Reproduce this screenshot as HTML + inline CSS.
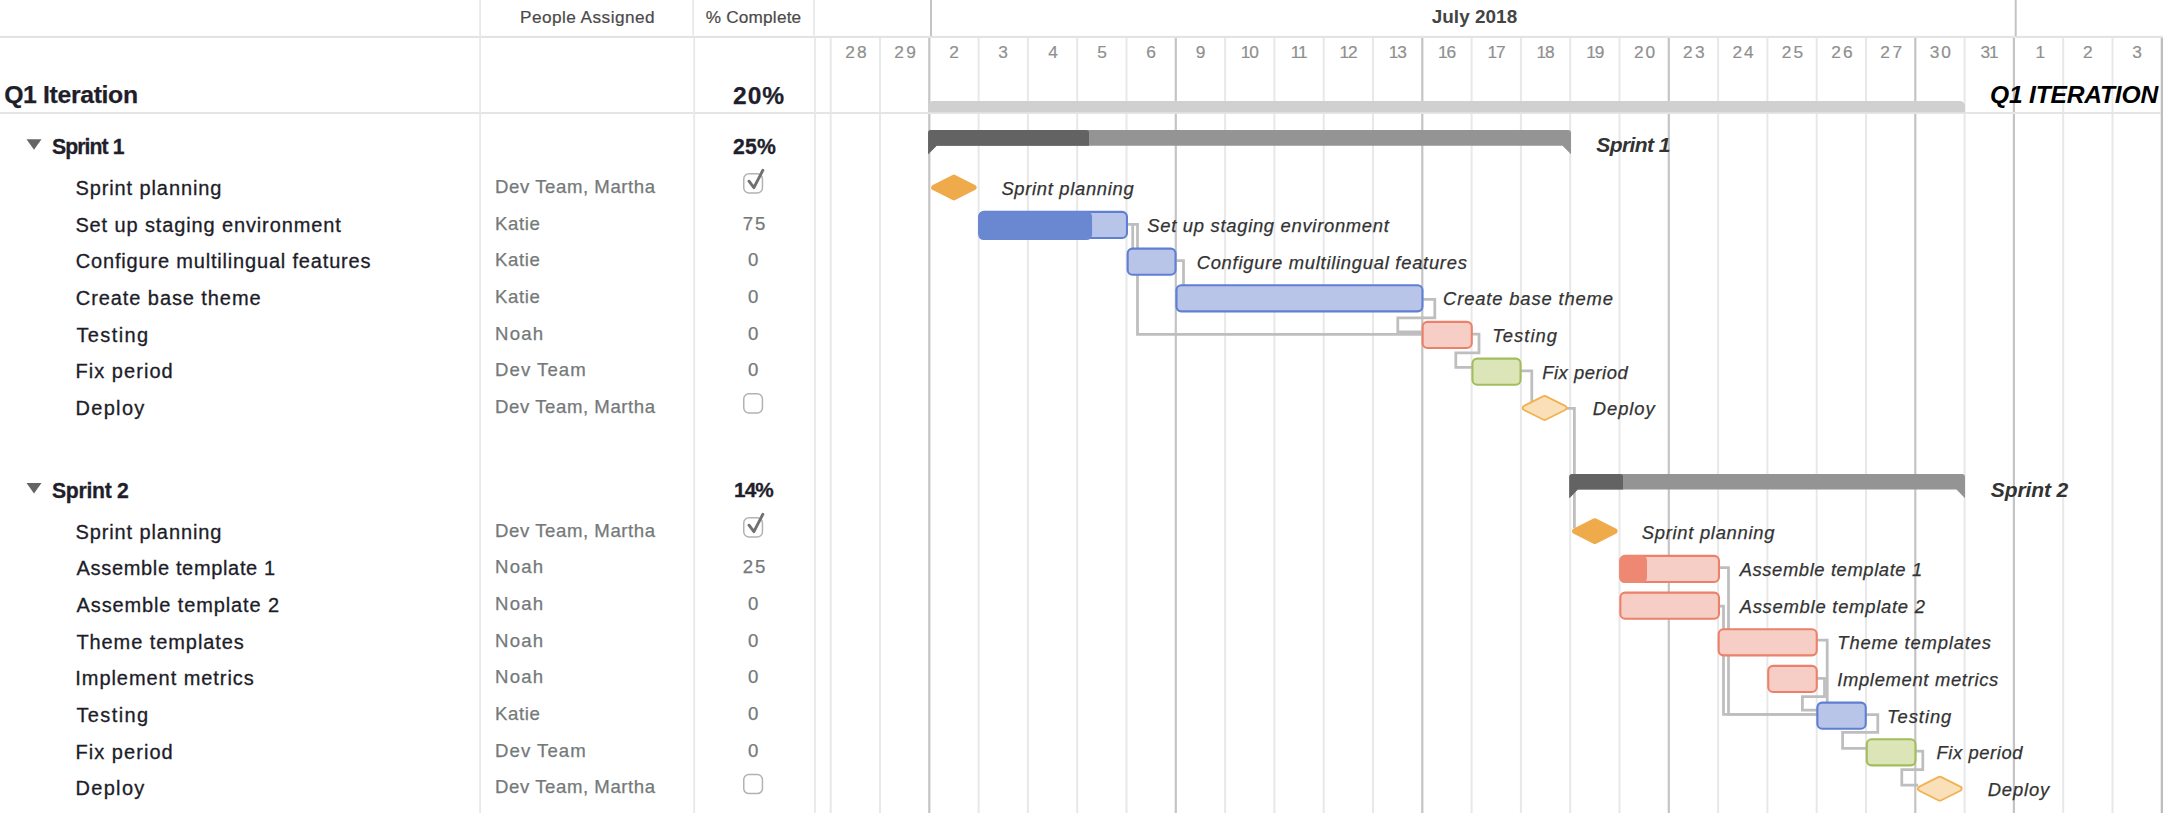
<!DOCTYPE html>
<html lang="en"><head><meta charset="utf-8"><title>Q1 Iteration - Gantt</title>
<style>
html,body{margin:0;padding:0;background:#fff;}
body{width:2163px;height:813px;overflow:hidden;position:relative;font-family:"Liberation Sans",sans-serif;}
#gantt{position:absolute;left:0;top:0;width:2163px;height:813px;overflow:hidden;}
svg{position:absolute;left:0;top:0;}
.t{position:absolute;white-space:nowrap;line-height:1;margin:0;padding:0;}
.hd{color:#4a4a4a;-webkit-text-stroke:0.2px #4a4a4a;}
.mo{color:#444;font-weight:bold;}
.q1{color:#1f1f2c;font-weight:bold;-webkit-text-stroke:0.25px #1f1f2c;}
.grp{color:#1f1f2c;font-weight:bold;-webkit-text-stroke:0.3px #1f1f2c;}
.nm{color:#1d1d29;-webkit-text-stroke:0.3px #1d1d29;}
.pp{color:#747979;-webkit-text-stroke:0.25px #747979;}
.dy{color:#8f8f8f;-webkit-text-stroke:0.2px #8f8f8f;}
.gl{color:#333;font-style:italic;-webkit-text-stroke:0.25px #333;}
.gg{color:#333;font-style:italic;font-weight:bold;}
.gq{color:#000;font-style:italic;font-weight:bold;}
</style></head>
<body>
<div id="gantt">
<svg width="2163" height="813" viewBox="0 0 2163 813">
<rect x="0" y="35.9" width="2163" height="2.1" fill="#e3e3e3"/>
<rect x="0" y="112.1" width="2163" height="1.8" fill="#e3e3e3"/>
<line x1="480.10" y1="0.00" x2="480.10" y2="813.00" stroke="#e8e8e8" stroke-width="1.8"/>
<line x1="693.20" y1="0.00" x2="693.20" y2="35.50" stroke="#e8e8e8" stroke-width="1.8"/>
<line x1="694.20" y1="38.00" x2="694.20" y2="813.00" stroke="#e8e8e8" stroke-width="1.8"/>
<line x1="814.00" y1="0.00" x2="814.00" y2="35.50" stroke="#e8e8e8" stroke-width="1.8"/>
<line x1="815.00" y1="38.00" x2="815.00" y2="813.00" stroke="#e8e8e8" stroke-width="1.8"/>
<line x1="931.00" y1="0.00" x2="931.00" y2="36.00" stroke="#c4c4c4" stroke-width="2.0"/>
<line x1="2015.70" y1="0.00" x2="2015.70" y2="36.00" stroke="#c4c4c4" stroke-width="2.0"/>
<line x1="830.70" y1="38.00" x2="830.70" y2="112.00" stroke="#e8e8e8" stroke-width="2.0"/>
<line x1="830.70" y1="114.00" x2="830.70" y2="813.00" stroke="#e8e8e8" stroke-width="2.0"/>
<line x1="880.00" y1="38.00" x2="880.00" y2="112.00" stroke="#e8e8e8" stroke-width="2.0"/>
<line x1="880.00" y1="114.00" x2="880.00" y2="813.00" stroke="#e8e8e8" stroke-width="2.0"/>
<line x1="929.30" y1="38.00" x2="929.30" y2="112.00" stroke="#c4c4c4" stroke-width="2.2"/>
<line x1="929.30" y1="114.00" x2="929.30" y2="813.00" stroke="#c4c4c4" stroke-width="2.2"/>
<line x1="978.60" y1="38.00" x2="978.60" y2="112.00" stroke="#e8e8e8" stroke-width="2.0"/>
<line x1="978.60" y1="114.00" x2="978.60" y2="813.00" stroke="#e8e8e8" stroke-width="2.0"/>
<line x1="1027.90" y1="38.00" x2="1027.90" y2="112.00" stroke="#e8e8e8" stroke-width="2.0"/>
<line x1="1027.90" y1="114.00" x2="1027.90" y2="813.00" stroke="#e8e8e8" stroke-width="2.0"/>
<line x1="1077.20" y1="38.00" x2="1077.20" y2="112.00" stroke="#e8e8e8" stroke-width="2.0"/>
<line x1="1077.20" y1="114.00" x2="1077.20" y2="813.00" stroke="#e8e8e8" stroke-width="2.0"/>
<line x1="1126.50" y1="38.00" x2="1126.50" y2="112.00" stroke="#e8e8e8" stroke-width="2.0"/>
<line x1="1126.50" y1="114.00" x2="1126.50" y2="813.00" stroke="#e8e8e8" stroke-width="2.0"/>
<line x1="1175.80" y1="38.00" x2="1175.80" y2="112.00" stroke="#c4c4c4" stroke-width="2.2"/>
<line x1="1175.80" y1="114.00" x2="1175.80" y2="813.00" stroke="#c4c4c4" stroke-width="2.2"/>
<line x1="1225.10" y1="38.00" x2="1225.10" y2="112.00" stroke="#e8e8e8" stroke-width="2.0"/>
<line x1="1225.10" y1="114.00" x2="1225.10" y2="813.00" stroke="#e8e8e8" stroke-width="2.0"/>
<line x1="1274.40" y1="38.00" x2="1274.40" y2="112.00" stroke="#e8e8e8" stroke-width="2.0"/>
<line x1="1274.40" y1="114.00" x2="1274.40" y2="813.00" stroke="#e8e8e8" stroke-width="2.0"/>
<line x1="1323.70" y1="38.00" x2="1323.70" y2="112.00" stroke="#e8e8e8" stroke-width="2.0"/>
<line x1="1323.70" y1="114.00" x2="1323.70" y2="813.00" stroke="#e8e8e8" stroke-width="2.0"/>
<line x1="1373.00" y1="38.00" x2="1373.00" y2="112.00" stroke="#e8e8e8" stroke-width="2.0"/>
<line x1="1373.00" y1="114.00" x2="1373.00" y2="813.00" stroke="#e8e8e8" stroke-width="2.0"/>
<line x1="1422.30" y1="38.00" x2="1422.30" y2="112.00" stroke="#c4c4c4" stroke-width="2.2"/>
<line x1="1422.30" y1="114.00" x2="1422.30" y2="813.00" stroke="#c4c4c4" stroke-width="2.2"/>
<line x1="1471.60" y1="38.00" x2="1471.60" y2="112.00" stroke="#e8e8e8" stroke-width="2.0"/>
<line x1="1471.60" y1="114.00" x2="1471.60" y2="813.00" stroke="#e8e8e8" stroke-width="2.0"/>
<line x1="1520.90" y1="38.00" x2="1520.90" y2="112.00" stroke="#e8e8e8" stroke-width="2.0"/>
<line x1="1520.90" y1="114.00" x2="1520.90" y2="813.00" stroke="#e8e8e8" stroke-width="2.0"/>
<line x1="1570.20" y1="38.00" x2="1570.20" y2="112.00" stroke="#e8e8e8" stroke-width="2.0"/>
<line x1="1570.20" y1="114.00" x2="1570.20" y2="813.00" stroke="#e8e8e8" stroke-width="2.0"/>
<line x1="1619.50" y1="38.00" x2="1619.50" y2="112.00" stroke="#e8e8e8" stroke-width="2.0"/>
<line x1="1619.50" y1="114.00" x2="1619.50" y2="813.00" stroke="#e8e8e8" stroke-width="2.0"/>
<line x1="1668.80" y1="38.00" x2="1668.80" y2="112.00" stroke="#c4c4c4" stroke-width="2.2"/>
<line x1="1668.80" y1="114.00" x2="1668.80" y2="813.00" stroke="#c4c4c4" stroke-width="2.2"/>
<line x1="1718.10" y1="38.00" x2="1718.10" y2="112.00" stroke="#e8e8e8" stroke-width="2.0"/>
<line x1="1718.10" y1="114.00" x2="1718.10" y2="813.00" stroke="#e8e8e8" stroke-width="2.0"/>
<line x1="1767.40" y1="38.00" x2="1767.40" y2="112.00" stroke="#e8e8e8" stroke-width="2.0"/>
<line x1="1767.40" y1="114.00" x2="1767.40" y2="813.00" stroke="#e8e8e8" stroke-width="2.0"/>
<line x1="1816.70" y1="38.00" x2="1816.70" y2="112.00" stroke="#e8e8e8" stroke-width="2.0"/>
<line x1="1816.70" y1="114.00" x2="1816.70" y2="813.00" stroke="#e8e8e8" stroke-width="2.0"/>
<line x1="1866.00" y1="38.00" x2="1866.00" y2="112.00" stroke="#e8e8e8" stroke-width="2.0"/>
<line x1="1866.00" y1="114.00" x2="1866.00" y2="813.00" stroke="#e8e8e8" stroke-width="2.0"/>
<line x1="1915.30" y1="38.00" x2="1915.30" y2="112.00" stroke="#c4c4c4" stroke-width="2.2"/>
<line x1="1915.30" y1="114.00" x2="1915.30" y2="813.00" stroke="#c4c4c4" stroke-width="2.2"/>
<line x1="1964.60" y1="38.00" x2="1964.60" y2="112.00" stroke="#e8e8e8" stroke-width="2.0"/>
<line x1="1964.60" y1="114.00" x2="1964.60" y2="813.00" stroke="#e8e8e8" stroke-width="2.0"/>
<line x1="2013.90" y1="38.00" x2="2013.90" y2="112.00" stroke="#c4c4c4" stroke-width="2.2"/>
<line x1="2013.90" y1="114.00" x2="2013.90" y2="813.00" stroke="#c4c4c4" stroke-width="2.2"/>
<line x1="2063.20" y1="38.00" x2="2063.20" y2="112.00" stroke="#e8e8e8" stroke-width="2.0"/>
<line x1="2063.20" y1="114.00" x2="2063.20" y2="813.00" stroke="#e8e8e8" stroke-width="2.0"/>
<line x1="2112.50" y1="38.00" x2="2112.50" y2="112.00" stroke="#e8e8e8" stroke-width="2.0"/>
<line x1="2112.50" y1="114.00" x2="2112.50" y2="813.00" stroke="#e8e8e8" stroke-width="2.0"/>
<line x1="2161.80" y1="38.00" x2="2161.80" y2="112.00" stroke="#c4c4c4" stroke-width="2.2"/>
<line x1="2161.80" y1="114.00" x2="2161.80" y2="813.00" stroke="#c4c4c4" stroke-width="2.2"/>
<rect x="2161" y="38" width="2" height="813" fill="#bdbdbd"/>
<path d="M928.2 112.2 V106 a5 5 0 0 1 5 -5 H1960 a5 5 0 0 1 5 5 V112.2 Z" fill="#d0d0d0"/>
<path d="M1127 224.4 H1137.5 V334.4 H1422" fill="none" stroke="#bebebe" stroke-width="2.75" stroke-linejoin="miter"/>
<path d="M1132.7 224.4 V249" fill="none" stroke="#bebebe" stroke-width="2.75" stroke-linejoin="miter"/>
<path d="M1176 260.6 H1183.5 V285" fill="none" stroke="#bebebe" stroke-width="2.75" stroke-linejoin="miter"/>
<path d="M1423 299.3 H1434.8 V317.9 H1397.8 V331.9 H1422" fill="none" stroke="#bebebe" stroke-width="2.75" stroke-linejoin="miter"/>
<path d="M1472 334 H1479 V352.8 H1455.8 V367.4 H1472" fill="none" stroke="#bebebe" stroke-width="2.75" stroke-linejoin="miter"/>
<path d="M1521 370.8 H1531.8 V402" fill="none" stroke="#bebebe" stroke-width="2.75" stroke-linejoin="miter"/>
<path d="M1566 408.3 H1574.4 V528" fill="none" stroke="#bebebe" stroke-width="2.75" stroke-linejoin="miter"/>
<path d="M1719 567.6 H1728.5 V714.3 H1817" fill="none" stroke="#bebebe" stroke-width="2.75" stroke-linejoin="miter"/>
<path d="M1719 606.2 H1723.5 V714.3 H1817" fill="none" stroke="#bebebe" stroke-width="2.75" stroke-linejoin="miter"/>
<path d="M1817 640 H1827.2 V703" fill="none" stroke="#bebebe" stroke-width="2.75" stroke-linejoin="miter"/>
<path d="M1817 678.3 H1824.5 V696.5 H1802.4 V710 H1817" fill="none" stroke="#bebebe" stroke-width="2.75" stroke-linejoin="miter"/>
<path d="M1866 714.5 H1877.8 V732.4 H1842.6 V748.4 H1866" fill="none" stroke="#bebebe" stroke-width="2.75" stroke-linejoin="miter"/>
<path d="M1916 751 H1922.8 V769.6 H1901.8 V785 H1918" fill="none" stroke="#bebebe" stroke-width="2.75" stroke-linejoin="miter"/>
<path d="M928.1 154.29999999999998 V133.1 a3 3 0 0 1 3 -3 H1568.0 a3 3 0 0 1 3 3 V154.29999999999998 L1562.5 145.7 H936.6 Z" fill="#949494"/>
<path d="M928.1 154.29999999999998 V133.1 a3 3 0 0 1 3 -3 H1086.0 a3 3 0 0 1 3 3 V145.7 H936.6 Z" fill="#636363"/>
<path d="M1569.3 498.2 V477.0 a3 3 0 0 1 3 -3 H1962.0 a3 3 0 0 1 3 3 V498.2 L1956.5 489.6 H1577.8 Z" fill="#949494"/>
<path d="M1569.3 498.2 V477.0 a3 3 0 0 1 3 -3 H1620.0 a3 3 0 0 1 3 3 V489.6 H1577.8 Z" fill="#636363"/>
<rect x="979.25" y="211.92" width="147.70" height="26.10" rx="4.8" fill="#b8c4e8" stroke="#5f7fd2" stroke-width="2.1"/>
<rect x="978.20" y="211.17" width="113.85" height="28.90" rx="5.5" fill="#6a87d1"/>
<rect x="1127.65" y="248.58" width="47.90" height="26.10" rx="4.8" fill="#b8c4e8" stroke="#5f7fd2" stroke-width="2.1"/>
<rect x="1176.45" y="285.25" width="246.00" height="26.10" rx="4.8" fill="#b8c4e8" stroke="#5f7fd2" stroke-width="2.1"/>
<rect x="1422.65" y="321.92" width="49.10" height="26.10" rx="4.8" fill="#f6cec6" stroke="#ec806a" stroke-width="2.1"/>
<rect x="1472.45" y="358.58" width="48.10" height="26.10" rx="4.8" fill="#dce5b8" stroke="#a2bd5e" stroke-width="2.1"/>
<rect x="1620.35" y="555.92" width="98.60" height="26.10" rx="4.8" fill="#f6cec6" stroke="#ec806a" stroke-width="2.1"/>
<rect x="1619.30" y="555.17" width="27.69" height="27.90" rx="5.5" fill="#ee8873"/>
<rect x="1620.35" y="592.58" width="98.60" height="26.10" rx="4.8" fill="#f6cec6" stroke="#ec806a" stroke-width="2.1"/>
<rect x="1718.65" y="629.25" width="98.10" height="26.10" rx="4.8" fill="#f6cec6" stroke="#ec806a" stroke-width="2.1"/>
<rect x="1768.25" y="665.92" width="48.50" height="26.10" rx="4.8" fill="#f6cec6" stroke="#ec806a" stroke-width="2.1"/>
<rect x="1817.35" y="702.58" width="48.40" height="26.10" rx="4.8" fill="#b8c4e8" stroke="#5f7fd2" stroke-width="2.1"/>
<rect x="1866.75" y="739.25" width="48.70" height="26.10" rx="4.8" fill="#dce5b8" stroke="#a2bd5e" stroke-width="2.1"/>
<polygon points="934.1,187.5 953.9,177.5 973.7,187.5 953.9,197.5" fill="#efab4b" stroke="#efab4b" stroke-width="5.8" stroke-linejoin="round"/>
<polygon points="1525.1,407.9 1544.6,398.2 1564.1,407.9 1544.6,417.7" fill="#f2b251" stroke="#f2b251" stroke-width="6.4" stroke-linejoin="round"/>
<polygon points="1525.1,407.9 1544.6,398.2 1564.1,407.9 1544.6,417.7" fill="#fae0b8" stroke="#fae0b8" stroke-width="2.8" stroke-linejoin="round"/>
<polygon points="1575.0,531.1 1594.8,521.1 1614.6,531.1 1594.8,541.1" fill="#efab4b" stroke="#efab4b" stroke-width="5.8" stroke-linejoin="round"/>
<polygon points="1920.3,788.7 1939.8,778.9 1959.3,788.7 1939.8,798.4" fill="#f2b251" stroke="#f2b251" stroke-width="6.4" stroke-linejoin="round"/>
<polygon points="1920.3,788.7 1939.8,778.9 1959.3,788.7 1939.8,798.4" fill="#fae0b8" stroke="#fae0b8" stroke-width="2.8" stroke-linejoin="round"/>
<polygon points="26.5,139.2 41.5,139.2 34.0,149.7" fill="#646464"/>
<polygon points="26.5,483.0 41.5,483.0 34.0,493.5" fill="#646464"/>
<rect x="743.75" y="173.75" width="18.7" height="19.2" rx="5.2" fill="#fff" stroke="#b2b2b2" stroke-width="1.5"/>
<path d="M749.0 181.2 L753.9 187.6 L762.8 170.3" fill="none" stroke="#707070" stroke-width="2.9" stroke-linejoin="round" stroke-linecap="round"/>
<rect x="743.75" y="393.75" width="18.7" height="19.2" rx="5.2" fill="#fff" stroke="#b2b2b2" stroke-width="1.5"/>
<rect x="743.75" y="517.75" width="18.7" height="19.2" rx="5.2" fill="#fff" stroke="#b2b2b2" stroke-width="1.5"/>
<path d="M749.0 525.2 L753.9 531.6 L762.8 514.3" fill="none" stroke="#707070" stroke-width="2.9" stroke-linejoin="round" stroke-linecap="round"/>
<rect x="743.75" y="774.42" width="18.7" height="19.2" rx="5.2" fill="#fff" stroke="#b2b2b2" stroke-width="1.5"/>
</svg>
<div class="t hd" id="t0" style="left:519.98px;top:8.64px;font-size:17.2px;letter-spacing:0.469px">People Assigned</div>
<div class="t hd" id="t1" style="left:705.75px;top:8.64px;font-size:17.2px;letter-spacing:0.201px">% Complete</div>
<div class="t mo" id="t2" style="left:1431.70px;top:8.40px;font-size:18.9px;letter-spacing:0.050px">July 2018</div>
<div class="t q1" id="t3" style="left:4.13px;top:83.01px;font-size:24.8px;letter-spacing:-0.351px">Q1 Iteration</div>
<div class="t q1" id="t4" style="left:733.07px;top:83.98px;font-size:24.6px;letter-spacing:0.910px">20%</div>
<div class="t grp" id="t5" style="left:52.04px;top:136.45px;font-size:21.2px;letter-spacing:-0.918px">Sprint 1</div>
<div class="t grp" id="t6" style="left:733.05px;top:136.35px;font-size:21.2px;letter-spacing:0.199px">25%</div>
<div class="t grp" id="t7" style="left:52.04px;top:479.95px;font-size:21.2px;letter-spacing:-0.308px">Sprint 2</div>
<div class="t grp" id="t8" style="left:734.07px;top:480.19px;font-size:20.8px;letter-spacing:-0.918px">14%</div>
<div class="t nm" id="t9" style="left:75.41px;top:178.07px;font-size:20.0px;letter-spacing:0.899px">Sprint planning</div>
<div class="t pp" id="t10" style="left:495.12px;top:177.96px;font-size:18.6px;letter-spacing:0.557px">Dev Team, Martha</div>
<div class="t nm" id="t11" style="left:75.41px;top:214.74px;font-size:20.0px;letter-spacing:0.873px">Set up staging environment</div>
<div class="t pp" id="t12" style="left:495.12px;top:214.62px;font-size:18.6px;letter-spacing:0.591px">Katie</div>
<div class="t pp" id="t13" style="left:742.76px;top:214.62px;font-size:18.6px;letter-spacing:1.831px">75</div>
<div class="t nm" id="t14" style="left:75.83px;top:251.40px;font-size:20.0px;letter-spacing:0.817px">Configure multilingual features</div>
<div class="t pp" id="t15" style="left:495.12px;top:251.29px;font-size:18.6px;letter-spacing:0.591px">Katie</div>
<div class="t pp" id="t16" style="left:748.05px;top:251.29px;font-size:18.6px;letter-spacing:0.000px">0</div>
<div class="t nm" id="t17" style="left:75.83px;top:288.07px;font-size:20.0px;letter-spacing:0.918px">Create base theme</div>
<div class="t pp" id="t18" style="left:495.12px;top:287.96px;font-size:18.6px;letter-spacing:0.591px">Katie</div>
<div class="t pp" id="t19" style="left:748.05px;top:287.96px;font-size:18.6px;letter-spacing:0.000px">0</div>
<div class="t nm" id="t20" style="left:76.38px;top:324.74px;font-size:20.0px;letter-spacing:1.400px">Testing</div>
<div class="t pp" id="t21" style="left:495.12px;top:324.62px;font-size:18.6px;letter-spacing:1.218px">Noah</div>
<div class="t pp" id="t22" style="left:748.05px;top:324.62px;font-size:18.6px;letter-spacing:0.000px">0</div>
<div class="t nm" id="t23" style="left:75.44px;top:361.40px;font-size:20.0px;letter-spacing:1.047px">Fix period</div>
<div class="t pp" id="t24" style="left:495.12px;top:361.29px;font-size:18.6px;letter-spacing:1.026px">Dev Team</div>
<div class="t pp" id="t25" style="left:748.05px;top:361.29px;font-size:18.6px;letter-spacing:0.000px">0</div>
<div class="t nm" id="t26" style="left:75.44px;top:398.07px;font-size:20.0px;letter-spacing:1.332px">Deploy</div>
<div class="t pp" id="t27" style="left:495.12px;top:397.96px;font-size:18.6px;letter-spacing:0.557px">Dev Team, Martha</div>
<div class="t nm" id="t28" style="left:75.41px;top:521.77px;font-size:20.0px;letter-spacing:0.899px">Sprint planning</div>
<div class="t pp" id="t29" style="left:495.12px;top:521.66px;font-size:18.6px;letter-spacing:0.557px">Dev Team, Martha</div>
<div class="t nm" id="t30" style="left:76.57px;top:558.44px;font-size:20.0px;letter-spacing:0.662px">Assemble template 1</div>
<div class="t pp" id="t31" style="left:495.12px;top:558.32px;font-size:18.6px;letter-spacing:1.218px">Noah</div>
<div class="t pp" id="t32" style="left:742.67px;top:558.32px;font-size:18.6px;letter-spacing:1.920px">25</div>
<div class="t nm" id="t33" style="left:76.57px;top:595.10px;font-size:20.0px;letter-spacing:0.871px">Assemble template 2</div>
<div class="t pp" id="t34" style="left:495.12px;top:594.99px;font-size:18.6px;letter-spacing:1.218px">Noah</div>
<div class="t pp" id="t35" style="left:748.05px;top:594.99px;font-size:18.6px;letter-spacing:0.000px">0</div>
<div class="t nm" id="t36" style="left:76.38px;top:631.77px;font-size:20.0px;letter-spacing:0.924px">Theme templates</div>
<div class="t pp" id="t37" style="left:495.12px;top:631.66px;font-size:18.6px;letter-spacing:1.218px">Noah</div>
<div class="t pp" id="t38" style="left:748.05px;top:631.66px;font-size:18.6px;letter-spacing:0.000px">0</div>
<div class="t nm" id="t39" style="left:75.27px;top:668.44px;font-size:20.0px;letter-spacing:0.949px">Implement metrics</div>
<div class="t pp" id="t40" style="left:495.12px;top:668.32px;font-size:18.6px;letter-spacing:1.218px">Noah</div>
<div class="t pp" id="t41" style="left:748.05px;top:668.32px;font-size:18.6px;letter-spacing:0.000px">0</div>
<div class="t nm" id="t42" style="left:76.38px;top:705.11px;font-size:20.0px;letter-spacing:1.400px">Testing</div>
<div class="t pp" id="t43" style="left:495.12px;top:704.99px;font-size:18.6px;letter-spacing:0.591px">Katie</div>
<div class="t pp" id="t44" style="left:748.05px;top:704.99px;font-size:18.6px;letter-spacing:0.000px">0</div>
<div class="t nm" id="t45" style="left:75.44px;top:741.77px;font-size:20.0px;letter-spacing:1.047px">Fix period</div>
<div class="t pp" id="t46" style="left:495.12px;top:741.66px;font-size:18.6px;letter-spacing:1.026px">Dev Team</div>
<div class="t pp" id="t47" style="left:748.05px;top:741.66px;font-size:18.6px;letter-spacing:0.000px">0</div>
<div class="t nm" id="t48" style="left:75.44px;top:778.44px;font-size:20.0px;letter-spacing:1.332px">Deploy</div>
<div class="t pp" id="t49" style="left:495.12px;top:778.32px;font-size:18.6px;letter-spacing:0.557px">Dev Team, Martha</div>
<div class="t dy" id="t50" style="left:845.14px;top:43.76px;font-size:17.3px;letter-spacing:2.176px">28</div>
<div class="t dy" id="t51" style="left:894.34px;top:43.76px;font-size:17.3px;letter-spacing:2.395px">29</div>
<div class="t dy" id="t52" style="left:949.14px;top:43.76px;font-size:17.3px;letter-spacing:0.000px">2</div>
<div class="t dy" id="t53" style="left:998.34px;top:43.76px;font-size:17.3px;letter-spacing:0.000px">3</div>
<div class="t dy" id="t54" style="left:1048.28px;top:43.76px;font-size:17.3px;letter-spacing:0.000px">4</div>
<div class="t dy" id="t55" style="left:1097.17px;top:43.76px;font-size:17.3px;letter-spacing:0.000px">5</div>
<div class="t dy" id="t56" style="left:1146.32px;top:43.76px;font-size:17.3px;letter-spacing:0.000px">6</div>
<div class="t dy" id="t57" style="left:1195.72px;top:43.76px;font-size:17.3px;letter-spacing:0.000px">9</div>
<div class="t dy" id="t58" style="left:1240.84px;top:43.76px;font-size:17.3px;letter-spacing:-1.100px">10</div>
<div class="t dy" id="t59" style="left:1290.82px;top:43.76px;font-size:17.3px;letter-spacing:-1.100px">11</div>
<div class="t dy" id="t60" style="left:1339.51px;top:43.76px;font-size:17.3px;letter-spacing:-1.100px">12</div>
<div class="t dy" id="t61" style="left:1388.77px;top:43.76px;font-size:17.3px;letter-spacing:-1.100px">13</div>
<div class="t dy" id="t62" style="left:1438.05px;top:43.76px;font-size:17.3px;letter-spacing:-1.100px">16</div>
<div class="t dy" id="t63" style="left:1487.44px;top:43.76px;font-size:17.3px;letter-spacing:-1.100px">17</div>
<div class="t dy" id="t64" style="left:1536.62px;top:43.76px;font-size:17.3px;letter-spacing:-1.100px">18</div>
<div class="t dy" id="t65" style="left:1586.14px;top:43.76px;font-size:17.3px;letter-spacing:-1.100px">19</div>
<div class="t dy" id="t66" style="left:1633.97px;top:43.76px;font-size:17.3px;letter-spacing:1.958px">20</div>
<div class="t dy" id="t67" style="left:1683.11px;top:43.76px;font-size:17.3px;letter-spacing:2.329px">23</div>
<div class="t dy" id="t68" style="left:1732.58px;top:43.76px;font-size:17.3px;letter-spacing:1.860px">24</div>
<div class="t dy" id="t69" style="left:1781.80px;top:43.76px;font-size:17.3px;letter-spacing:2.217px">25</div>
<div class="t dy" id="t70" style="left:1831.14px;top:43.76px;font-size:17.3px;letter-spacing:2.197px">26</div>
<div class="t dy" id="t71" style="left:1880.35px;top:43.76px;font-size:17.3px;letter-spacing:2.520px">27</div>
<div class="t dy" id="t72" style="left:1929.84px;top:43.76px;font-size:17.3px;letter-spacing:1.924px">30</div>
<div class="t dy" id="t73" style="left:1980.61px;top:43.76px;font-size:17.3px;letter-spacing:-1.100px">31</div>
<div class="t dy" id="t74" style="left:2035.47px;top:43.76px;font-size:17.3px;letter-spacing:0.000px">1</div>
<div class="t dy" id="t75" style="left:2082.93px;top:43.76px;font-size:17.3px;letter-spacing:0.000px">2</div>
<div class="t dy" id="t76" style="left:2132.35px;top:43.76px;font-size:17.3px;letter-spacing:0.000px">3</div>
<div class="t gq" id="t77" style="left:1990.00px;top:83.18px;font-size:24.6px;letter-spacing:-0.197px">Q1 ITERATION</div>
<div class="t gg" id="t78" style="left:1596.32px;top:134.42px;font-size:21.0px;letter-spacing:-0.586px">Sprint 1</div>
<div class="t gg" id="t79" style="left:1990.76px;top:478.62px;font-size:21.0px;letter-spacing:-0.099px">Sprint 2</div>
<div class="t gl" id="t80" style="left:1001.38px;top:180.22px;font-size:18.4px;letter-spacing:0.687px">Sprint planning</div>
<div class="t gl" id="t81" style="left:1147.35px;top:216.89px;font-size:18.4px;letter-spacing:0.704px">Set up staging environment</div>
<div class="t gl" id="t82" style="left:1196.67px;top:253.56px;font-size:18.4px;letter-spacing:0.727px">Configure multilingual features</div>
<div class="t gl" id="t83" style="left:1443.09px;top:290.23px;font-size:18.4px;letter-spacing:0.843px">Create base theme</div>
<div class="t gl" id="t84" style="left:1492.13px;top:326.89px;font-size:18.4px;letter-spacing:1.053px">Testing</div>
<div class="t gl" id="t85" style="left:1542.25px;top:363.56px;font-size:18.4px;letter-spacing:0.522px">Fix period</div>
<div class="t gl" id="t86" style="left:1592.80px;top:400.23px;font-size:18.4px;letter-spacing:0.924px">Deploy</div>
<div class="t gl" id="t87" style="left:1641.69px;top:524.22px;font-size:18.4px;letter-spacing:0.724px">Sprint planning</div>
<div class="t gl" id="t88" style="left:1739.66px;top:560.89px;font-size:18.4px;letter-spacing:0.597px">Assemble template 1</div>
<div class="t gl" id="t89" style="left:1739.66px;top:597.56px;font-size:18.4px;letter-spacing:0.752px">Assemble template 2</div>
<div class="t gl" id="t90" style="left:1837.34px;top:634.23px;font-size:18.4px;letter-spacing:0.821px">Theme templates</div>
<div class="t gl" id="t91" style="left:1837.17px;top:670.89px;font-size:18.4px;letter-spacing:0.682px">Implement metrics</div>
<div class="t gl" id="t92" style="left:1887.03px;top:707.56px;font-size:18.4px;letter-spacing:0.946px">Testing</div>
<div class="t gl" id="t93" style="left:1936.38px;top:744.23px;font-size:18.4px;letter-spacing:0.600px">Fix period</div>
<div class="t gl" id="t94" style="left:1987.67px;top:780.89px;font-size:18.4px;letter-spacing:0.855px">Deploy</div>
</div>
</body></html>
